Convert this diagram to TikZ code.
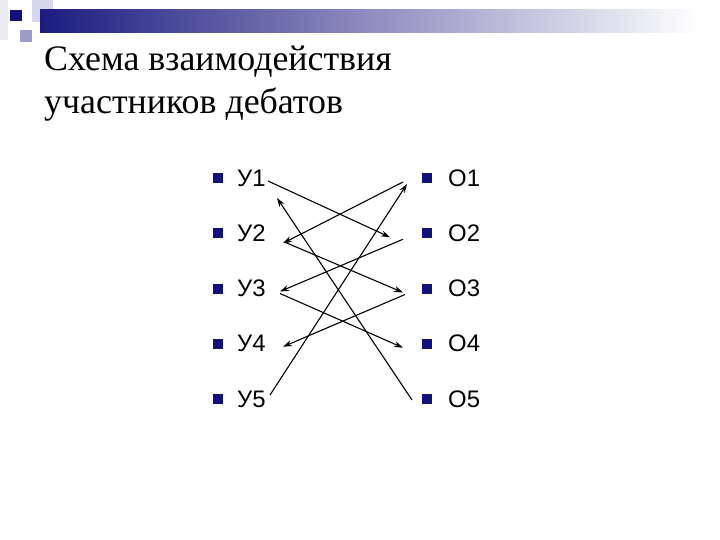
\documentclass[tikz,border=0pt]{standalone}
\usepackage{fontspec}
\setmainfont{Liberation Serif}
\newfontfamily\labelfont{Liberation Sans}
\usetikzlibrary{arrows.meta}
\definecolor{navy}{HTML}{10107F}
\definecolor{barblue}{HTML}{1C1C80}
\definecolor{lavender}{HTML}{9C9CCC}
\definecolor{palelav}{HTML}{D6D6EC}
\begin{document}
\begin{tikzpicture}[x=1bp,y=-1bp,
  title/.style={inner sep=0,anchor=base west,font=\fontsize{36}{42}\selectfont},
  bullet/.style={fill=navy,inner sep=0,minimum size=10bp},
  member/.style={inner sep=0,anchor=west,font=\labelfont\fontsize{24}{28}\selectfont},
  arr/.style={line width=1.1bp,-{Stealth[length=9bp,width=6bp]}}
  ]
  \useasboundingbox[fill=white] (0,0) rectangle (720,540);
  % 
  % Header
  % 
  \fill[palelav!50] (0,0) rectangle (8,40);
  \fill[palelav] (32,0) rectangle (53,22);
  \shade[left color=barblue,right color=white] (40,10) rectangle (700,33);
  \fill[navy] (10,10) rectangle (22,21);
  \fill[lavender] (20,30) rectangle (32,42);
  \node(title1)[title] at (44,71) {Схема взаимодействия};
  \node(title2)[title] at (44,114) {участников дебатов};
  % 
  % Members
  % 
  \foreach \i in {1,...,5}{
    \node(ub\i)[bullet] at (217.5,178+55.25*\i-55.25) {};
    \node(u\i) [member] at (237,178+55.25*\i-55.25) {У\i};
    \node(ob\i)[bullet] at (427,178+55.25*\i-55.25) {};
    \node(o\i) [member] at (448,178+55.25*\i-55.25) {О\i};
    \coordinate(l\i) at (280,181+55.25*\i-55.25);
    \coordinate(r\i) at (403,182+55.25*\i-55.25);
  }
  % 
  % Arrows
  % 
  % u1 -> o2
  \draw[arr] ([shift={(-12,0)}]l1) -- ([shift={(-13,0)}]r2);
  % o1 -> u2
  \draw[arr] (r1) -- ([shift={(3,7)}]l2);
  % u2 -> o3
  \draw[arr] ([shift={(5,6)}]l2) -- (r3);
  % o2 -> u3
  \draw[arr] ([shift={(0,2)}]r2) -- (l3);
  % u3 -> o4
  \draw[arr] ([shift={(0,2)}]l3) -- (r4);
  % o3 -> u4
  \draw[arr] ([shift={(2,2)}]r3) -- ([shift={(3,0)}]l4);
  % u5 -> o1
  \draw[arr] ([shift={(-10,-7)}]l5) -- ([shift={(4,2)}]r1);
  % o5 -> u1
  \draw[arr] ([shift={(9,-3)}]r5) -- ([shift={(-3,17)}]l1);
\end{tikzpicture}
\end{document}
